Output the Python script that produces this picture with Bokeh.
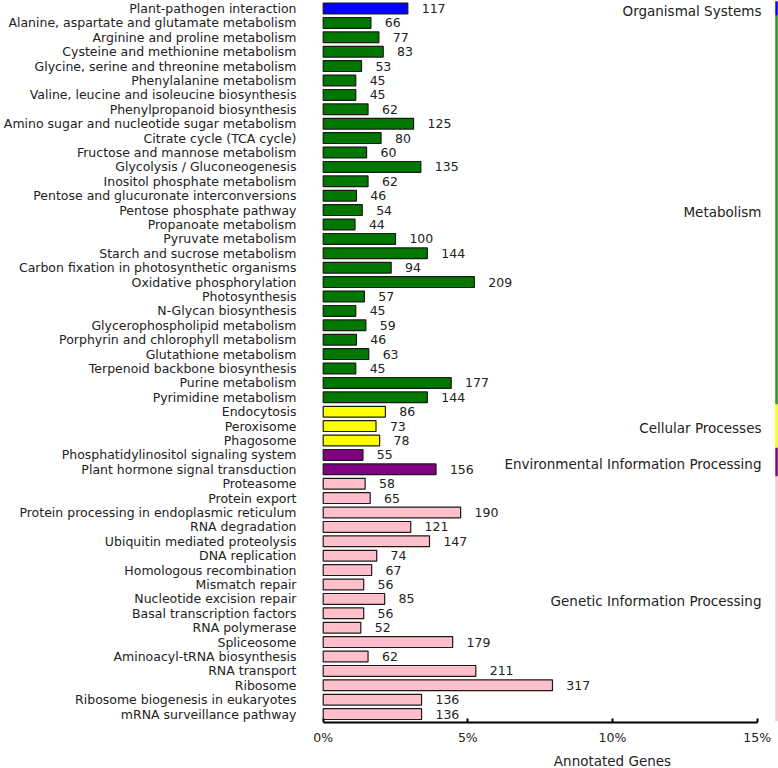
from bokeh.plotting import figure
from bokeh.layouts import column
from bokeh.models import Range1d, ColumnDataSource, FixedTicker, PrintfTickFormatter
from bokeh.core.properties import value
from bokeh.embed import file_html
from bokeh.resources import INLINE

pathways = [
    "Plant-pathogen interaction",
    "Alanine, aspartate and glutamate metabolism",
    "Arginine and proline metabolism",
    "Cysteine and methionine metabolism",
    "Glycine, serine and threonine metabolism",
    "Phenylalanine metabolism",
    "Valine, leucine and isoleucine biosynthesis",
    "Phenylpropanoid biosynthesis",
    "Amino sugar and nucleotide sugar metabolism",
    "Citrate cycle (TCA cycle)",
    "Fructose and mannose metabolism",
    "Glycolysis / Gluconeogenesis",
    "Inositol phosphate metabolism",
    "Pentose and glucuronate interconversions",
    "Pentose phosphate pathway",
    "Propanoate metabolism",
    "Pyruvate metabolism",
    "Starch and sucrose metabolism",
    "Carbon fixation in photosynthetic organisms",
    "Oxidative phosphorylation",
    "Photosynthesis",
    "N-Glycan biosynthesis",
    "Glycerophospholipid metabolism",
    "Porphyrin and chlorophyll metabolism",
    "Glutathione metabolism",
    "Terpenoid backbone biosynthesis",
    "Purine metabolism",
    "Pyrimidine metabolism",
    "Endocytosis",
    "Peroxisome",
    "Phagosome",
    "Phosphatidylinositol signaling system",
    "Plant hormone signal transduction",
    "Proteasome",
    "Protein export",
    "Protein processing in endoplasmic reticulum",
    "RNA degradation",
    "Ubiquitin mediated proteolysis",
    "DNA replication",
    "Homologous recombination",
    "Mismatch repair",
    "Nucleotide excision repair",
    "Basal transcription factors",
    "RNA polymerase",
    "Spliceosome",
    "Aminoacyl-tRNA biosynthesis",
    "RNA transport",
    "Ribosome",
    "Ribosome biogenesis in eukaryotes",
    "mRNA surveillance pathway",
]

counts = [117,
          66, 77, 83, 53, 45, 45, 62, 125, 80, 60, 135, 62, 46, 54, 44, 100, 144, 94,
          209, 57, 45, 59, 46, 63, 45, 177, 144,
          86, 73, 78,
          55, 156,
          58, 65, 190, 121, 147, 74, 67, 56, 85, 56, 52, 179, 62, 211, 317, 136, 136]

group_names = ["Organismal Systems", "Metabolism", "Cellular Processes",
               "Environmental Information Processing", "Genetic Information Processing"]
group_sizes = [1, 27, 3, 2, 17]
group_colors = ["#0000FF", "#007800", "#FFFF00", "#800080", "#FFC0CB"]
group_line_colors = ["#0000FF", "#229922", "#FFFF00", "#800080", "#FFC0CB"]

total_genes = 4000  # estimated total of annotated genes (percent axis)
x_ticks = [0, 5, 10, 15]
x_title = "Annotated Genes"

# ---- derived data ----
rows = list(range(len(pathways)))
pct = [c / total_genes * 100 for c in counts]
colors = []
g_start, g_end, g_mid = [], [], []
r = 0
for name, size, col in zip(group_names, group_sizes, group_colors):
    colors += [col] * size
    g_start.append(r - 0.5)
    g_end.append(r + size - 0.5)
    g_mid.append(r + (size - 1) / 2 + 0.15)
    r += size

src = ColumnDataSource(dict(y=rows, name=pathways, count=[str(c) for c in counts],
                            pct=pct, color=colors,
                            vx=[p + 0.48 for p in pct]))
gsrc = ColumnDataSource(dict(name=group_names, color=group_line_colors,
                             y0=g_start, y1=g_end, ym=g_mid))

PX = 28.93  # pixels per percent
x0_px = 322.7
W = 778
H_main = 752
H_title = 16
frame_h = 722
row_px = 14.4
top_row_px = 8.0

xr = Range1d(-x0_px / PX, (W - x0_px) / PX)

p = figure(width=W, height=H_main, output_backend="svg", toolbar_location=None,
           x_range=xr,
           y_range=Range1d(49 + (frame_h - (top_row_px + 49 * row_px)) / row_px, -top_row_px / row_px),
           y_axis_location=None, min_border_left=0, min_border_right=0,
           min_border_top=0, min_border_bottom=H_main - frame_h)
p.outline_line_color = None
p.grid.visible = False

p.hbar(y="y", left=0, right="pct", height=0.75, fill_color="color",
       line_color="#1a1a1a", line_width=1.2, source=src)

p.text(x=-0.923, y="y", text="name", source=src, text_align="right", text_baseline="middle",
       text_font=value("DejaVu Sans"), text_font_size="12.5px", text_color="#222222")
p.text(x="vx", y="y", text="count", source=src, text_align="left", text_baseline="middle",
       text_font=value("DejaVu Sans"), text_font_size="12.5px", text_color="#222222")

p.text(x=15.15, y="ym", text="name", source=gsrc, text_align="right", text_baseline="middle",
       text_font=value("DejaVu Sans"), text_font_size="13.5px", text_color="#222222")
p.segment(x0=15.67, x1=15.67, y0="y0", y1="y1", line_color="color", line_width=2.5, source=gsrc)

ax = p.xaxis[0]
ax.bounds = (0, 15)
ax.ticker = FixedTicker(ticks=x_ticks)
ax.formatter = PrintfTickFormatter(format="%d%%")
ax.axis_line_width = 2
ax.axis_line_color = "black"
ax.major_tick_in = 4
ax.major_tick_out = 0
ax.major_tick_line_width = 2
ax.major_tick_line_color = "black"
ax.minor_tick_line_color = None
ax.major_label_standoff = 7
ax.major_label_text_font = "DejaVu Sans"
ax.major_label_text_font_size = "12.5px"
ax.major_label_text_color = "#222222"

# strip below the axis carrying the axis title, centred under the 10% tick
t = figure(width=W, height=H_title, output_backend="svg", toolbar_location=None,
           x_range=xr, y_range=Range1d(0, H_title),
           x_axis_location=None, y_axis_location=None,
           min_border_left=0, min_border_right=0, min_border_top=0, min_border_bottom=0)
t.outline_line_color = None
t.grid.visible = False
t.text(x=[10], y=[8.0], text=[x_title], text_align="center", text_baseline="middle",
       text_font=value("DejaVu Sans"), text_font_size="13.5px", text_color="#222222")

layout = column(p, t, spacing=0)
open("out.html", "w").write(file_html(layout, INLINE))
